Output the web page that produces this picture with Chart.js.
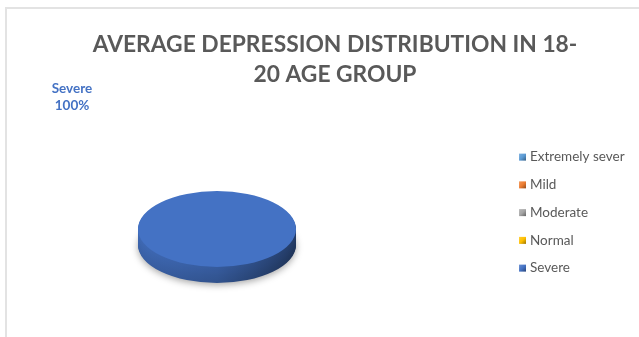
<!DOCTYPE html>
<html><head><meta charset="utf-8">
<script src="https://cdn.jsdelivr.net/npm/chart.js@4.4.1/dist/chart.umd.min.js"></script>
<style>
html,body{margin:0;padding:0;background:#fff;}
body{width:639px;height:337px;overflow:hidden;position:relative;}
#frame{position:absolute;left:5px;top:7px;width:700px;height:400px;border-left:2px solid #e3e3e3;border-top:2px solid #e3e3e3;}
canvas{position:absolute;left:0;top:0;}
</style></head><body>
<div id="frame"></div>
<canvas id="c" width="639" height="337"></canvas>
<script>
// ---- data ----
const titleLines = ['AVERAGE DEPRESSION DISTRIBUTION IN 18-', '20 AGE GROUP'];
const categories = ['Extremely sever', 'Mild', 'Moderate', 'Normal', 'Severe'];
const values = [0, 0, 0, 0, 100];
const colors = ['#5B9BD5', '#ED7D31', '#A5A5A5', '#FFC000', '#4472C4'];

// ---- layout / style ----
const FONT = 'Lato, "Open Sans", sans-serif';
const W = 639;
const TEXT = '#595959';
const legendFontSize = 13.5;
const legendPad = 14.25;
const legendTextX = 530;
const titleCx = 335;
const pieCx = 217;
const titleFont = {family: FONT, size: 22.8, weight: 'bold', lineHeight: 1.28};

function shade(hex, f) {
  const n = parseInt(hex.slice(1), 16);
  let r = n >> 16, g = (n >> 8) & 255, b = n & 255;
  const t = f < 0 ? 0 : 255, p = Math.abs(f);
  r = Math.round((t - r) * p + r); g = Math.round((t - g) * p + g); b = Math.round((t - b) * p + b);
  return `rgb(${r},${g},${b})`;
}

const mctx = document.createElement('canvas').getContext('2d');
mctx.font = `${legendFontSize}px ${FONT}`;
const maxTextW = Math.max(...categories.map(t => mctx.measureText(t).width));
// Chart.js adds 10px to the width of a vertical legend
const padR = W - legendTextX - maxTextW - 10;
const padL = 2 * titleCx - W + padR;
const legendLeft = 2 * pieCx - padL;
const boxW = legendTextX - legendPad - legendFontSize / 2 - legendLeft;

function makeMarker(color) {
  const w = Math.round(boxW + 6);
  const c = document.createElement('canvas');
  c.width = w; c.height = 9;
  const g = c.getContext('2d');
  const x0 = w - 7;
  const grd = g.createLinearGradient(x0, 1, x0 + 7, 8);
  grd.addColorStop(0, shade(color, 0.2));
  grd.addColorStop(0.5, color);
  grd.addColorStop(1, shade(color, -0.4));
  g.fillStyle = grd;
  g.fillRect(x0, 1, 7, 7);
  return c;
}

const pie3d = {
  id: 'pie3d',
  beforeDatasetsDraw(chart, args, opts) {
    const ctx = chart.ctx;
    const meta = chart.getDatasetMeta(0);
    const a0 = meta.data[0];
    const cx = a0.x, cy = a0.y, k = opts.tilt, depth = opts.depth;
    ctx.save();
    ctx.translate(cx, cy); ctx.scale(1, k); ctx.translate(-cx, -cy);
    for (let d = depth; d >= 1; d--) {
      const off = d / k;
      meta.data.forEach((arc, i) => {
        const p = arc.getProps(['startAngle', 'endAngle', 'outerRadius'], true);
        if (p.endAngle - p.startAngle <= 0) return;
        const base = chart.data.datasets[0].backgroundColor[i];
        const t = (d - 1) / Math.max(1, depth - 1);
        const g = ctx.createLinearGradient(cx - p.outerRadius, 0, cx + p.outerRadius, 0);
        g.addColorStop(0, shade(base, -0.08 - 0.08 * t));
        g.addColorStop(0.5, shade(base, -0.2 - 0.08 * t));
        g.addColorStop(1, shade(base, -0.47 - 0.08 * t));
        ctx.save();
        if (d === depth) { ctx.shadowColor = 'rgba(0,0,0,0.35)'; ctx.shadowBlur = 7; ctx.shadowOffsetY = 2; }
        ctx.fillStyle = g;
        ctx.beginPath();
        ctx.moveTo(cx, cy + off);
        ctx.arc(cx, cy + off, p.outerRadius, p.startAngle, p.endAngle);
        ctx.closePath();
        ctx.fill();
        ctx.restore();
      });
    }
  },
  afterDatasetsDraw(chart) { chart.ctx.restore(); }
};

const sliceLabels = {
  id: 'sliceLabels',
  afterDraw(chart, args, opts) {
    const ctx = chart.ctx;
    const meta = chart.getDatasetMeta(0);
    const ds = chart.data.datasets[0];
    const total = ds.data.reduce((a, b) => a + b, 0);
    meta.data.forEach((arc, i) => {
      if (!ds.data[i]) return;
      const pct = Math.round(ds.data[i] / total * 100) + '%';
      ctx.save();
      ctx.fillStyle = ds.backgroundColor[i];
      ctx.font = `bold 13.5px ${FONT}`;
      ctx.textAlign = 'center'; ctx.textBaseline = 'middle';
      ctx.fillText(chart.data.labels[i], arc.x + opts.dx, arc.y + opts.dy);
      ctx.fillText(pct, arc.x + opts.dx, arc.y + opts.dy + opts.gap);
      ctx.restore();
    });
  }
};

new Chart(document.getElementById('c'), {
  type: 'pie',
  data: {
    labels: categories,
    datasets: [{ data: values, backgroundColor: colors, borderWidth: 0, radius: 79 }]
  },
  options: {
    responsive: false,
    animation: false,
    layout: { padding: { left: padL, right: padR, top: 0, bottom: 0 } },
    plugins: {
      tooltip: { enabled: false },
      title: {
        display: true, text: titleLines, color: TEXT, font: titleFont,
        padding: { top: 30.4, bottom: 32.3 }
      },
      legend: {
        position: 'right', align: 'start', fullSize: false,
        title: { display: true, text: ' ', font: { size: 10, lineHeight: 1.5 }, padding: 0 },
        labels: {
          usePointStyle: true, pointStyleWidth: boxW, padding: legendPad, color: TEXT,
          font: { family: FONT, size: legendFontSize },
          generateLabels(chart) {
            const items = Chart.overrides.pie.plugins.legend.labels.generateLabels(chart);
            items.forEach(it => { it.pointStyle = makeMarker(it.fillStyle); it.fontColor = TEXT; });
            return items;
          }
        }
      },
      pie3d: { tilt: 0.48, depth: 16 },
      sliceLabels: { dx: -145, dy: -140, gap: 17 }
    }
  },
  plugins: [pie3d, sliceLabels]
});
</script>
</body></html>
